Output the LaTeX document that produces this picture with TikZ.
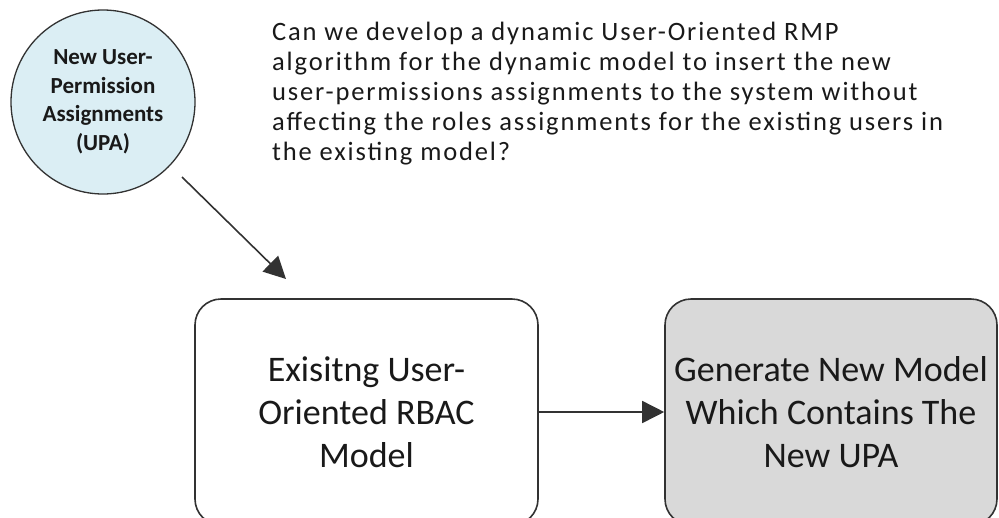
\documentclass[tikz,border=0pt]{standalone}
\usepackage{fontspec}
\setmainfont{Carlito}
\newfontfamily\questionfont[LetterSpace=7]{Carlito}
\usetikzlibrary{arrows.meta}
\definecolor{upablue}{RGB}{219,238,244}
\definecolor{newgray}{RGB}{217,217,217}
\definecolor{edge}{RGB}{50,50,50}
\definecolor{ink}{RGB}{25,25,25}
\tikzset{
  modelbox/.style={draw=edge, line width=1.6pt, rounded corners=26pt,
    minimum height=226pt, align=center, text=ink,
    font=\fontsize{36}{43}\selectfont},
  arr/.style={draw=edge, line width=1.6pt,
    -{Triangle[length=22pt,width=22pt]}},
}
\begin{document}
\begin{tikzpicture}[x=1pt,y=-1pt]
\useasboundingbox (0,0) rectangle (999,517);
\begin{scope}
\clip (0,0) rectangle (999,517);
% input circle
\node[circle, draw=edge, line width=1.3pt, fill=upablue, minimum size=184pt,
  inner sep=0pt, align=center, text=ink,
  font=\bfseries\fontsize{23}{28.5}\selectfont] (upa) at (103,102)
  {New User-\\Permission\\Assignments\\(UPA)};
% research question (anchored on the baseline of its last line)
\node[anchor=base west, align=left, inner sep=0pt, text=ink,
  font=\questionfont\fontsize{26.5}{30}\selectfont] (q) at (272,160)
  {Can we develop a dynamic User-Oriented RMP\\
   algorithm for the dynamic model to insert the new\\
   user-permissions assignments to the system without\\
   affecting the roles assignments for the existing users in\\
   the existing model?};
% models
\node[modelbox, minimum width=343pt] (old) at (366.5,412)
  {Exisitng User-\\Oriented RBAC\\Model};
\node[modelbox, fill=newgray, minimum width=332pt] (new) at (831,412)
  {Generate New Model\\Which Contains The\\New UPA};
% connectors
\coordinate (s) at (182,177);
\coordinate (t) at (286,279);
\draw[arr] (s) -- (t);
\draw[arr] (old.east) -- (new.west);
\end{scope}
\end{tikzpicture}
\end{document}
